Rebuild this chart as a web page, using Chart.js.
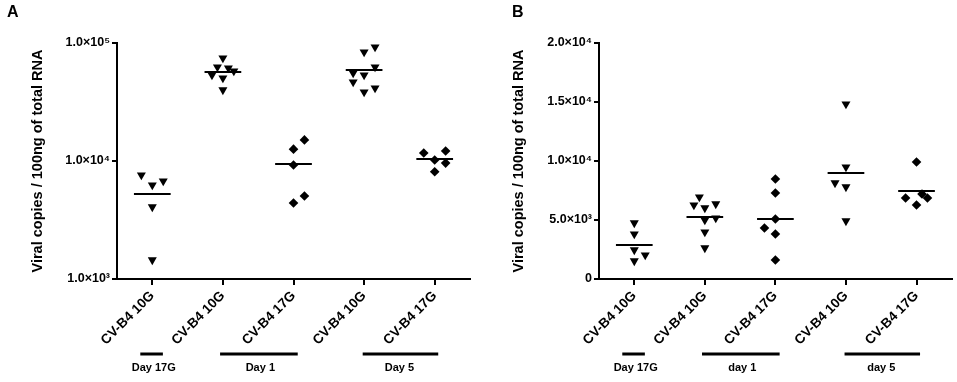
<!DOCTYPE html>
<html>
<head>
<meta charset="utf-8">
<script src="https://cdn.jsdelivr.net/npm/chart.js@4"></script>
<style>
  html, body { margin: 0; padding: 0; background: #fff; }
  .panel { position: absolute; top: 0; width: 478px; height: 382px; }
  #panelA { left: 0; }
  #panelB { left: 479px; }
</style>
</head>
<body>
<div class="panel" id="panelA"><canvas id="chartA" width="478" height="382"></canvas></div>
<div class="panel" id="panelB"><canvas id="chartB" width="478" height="382"></canvas></div>
<script>
// categories along the x axis (same in both panels)
const groups = ['CV-B4 10G', 'CV-B4 10G', 'CV-B4 17G', 'CV-B4 10G', 'CV-B4 17G'];
const groupShapes = ['triangle', 'triangle', 'rectRot', 'triangle', 'rectRot'];

// Panel A - viral copies (log scale)
const valuesA = [
    [7600, 6770, 6260, 4080, 1450],
    [74600, 62600, 61400, 57900, 53500, 50500, 40000],
    [15100, 12600, 9250, 5050, 4400],
    [92500, 83900, 62600, 55700, 53500, 46700, 41500, 38400],
    [12150, 11700, 10200, 9600, 8100]
];
// horizontal spread column of each dot (-1 left, 0 centre, 1 right)
const spreadA = [
    [-1, 1, 0, 0, 0],
    [0, -0.5, 0.5, 1, -1, 0, 0],
    [1, 0, 0, 1, 0],
    [1, 0, 1, -1, 0, -1, 1, 0],
    [1, -1, 0, 1, 0]
];
const meansA = [5250, 56800, 9430, 59000, 10400];
const ticksA = [1000, 10000, 100000];
const tickLabelsA = ['1.0\u00d710\u00b3', '1.0\u00d710\u2074', '1.0\u00d710\u2075'];
const daysA = ['Day 17G', 'Day 1', 'Day 5'];

// Panel B - viral copies (linear scale)
const valuesB = [
    [4750, 3810, 2460, 2030, 1530],
    [6950, 6270, 6360, 6020, 5170, 5000, 3980, 2630],
    [8475, 7290, 5085, 4320, 3810, 1610],
    [14830, 9490, 8140, 7800, 4920],
    [9920, 7200, 6870, 6870, 6270]
];
const spreadB = [
    [0, 0, 0, 1, 0],
    [-0.5, -1, 1, 0, 1, 0, 0, 0],
    [0, 0, 0, -1, 0, 0],
    [0, 0, -1, 0, 0],
    [0, 0.5, -1, 1, 0]
];
const meansB = [2880, 5260, 5085, 8980, 7460];
const ticksB = [0, 5000, 10000, 15000, 20000];
const tickLabelsB = ['0', '5.0\u00d710\u00b3', '1.0\u00d710\u2074', '1.5\u00d710\u2074', '2.0\u00d710\u2074'];
const daysB = ['Day 17G', 'day 1', 'day 5'];

const FONT = "'Liberation Sans', Arial, sans-serif";
const SPREAD = 0.155;   // one spread column in category units
const MEAN_HALF = 0.26; // half width of mean bar

// bracket spans under the axis, in category units
const bracketSpans = [[-0.17, 0.15, 0.02], [0.96, 2.06, 1.53], [2.98, 4.05, 3.5]];

function buildDatasets(values, spread, means) {
    const sets = values.map((vals, i) => ({
        type: 'scatter',
        data: vals.map((v, k) => ({ x: i + spread[i][k] * SPREAD, y: v })),
        pointStyle: groupShapes[i],
        rotation: groupShapes[i] === 'triangle' ? 180 : 0,
        pointRadius: groupShapes[i] === 'triangle' ? 5.2 : 4.8,
        pointHoverRadius: 5,
        backgroundColor: '#000',
        borderColor: '#000',
        borderWidth: 0
    }));
    const meanData = [];
    means.forEach((m, i) => {
        meanData.push({ x: i - MEAN_HALF, y: m }, { x: i + MEAN_HALF, y: m }, { x: i + 0.5, y: null });
    });
    sets.push({
        type: 'line',
        data: meanData,
        showLine: true,
        spanGaps: false,
        borderColor: '#000',
        borderWidth: 2,
        pointRadius: 0
    });
    return sets;
}

function panelPlugin(letter, letterX, days) {
    return {
        id: 'panel' + letter,
        afterDraw(chart) {
            const ctx = chart.ctx;
            const x = chart.scales.x;
            ctx.save();
            ctx.fillStyle = '#000';
            ctx.font = 'bold 16px ' + FONT;
            ctx.textBaseline = 'top';
            ctx.textAlign = 'left';
            ctx.fillText(letter, letterX, 5);

            ctx.strokeStyle = '#000';
            ctx.lineWidth = 3;
            ctx.font = 'bold 11px ' + FONT;
            ctx.textAlign = 'center';
            ctx.textBaseline = 'middle';
            bracketSpans.forEach((s, i) => {
                ctx.beginPath();
                ctx.moveTo(x.getPixelForValue(s[0]), 354);
                ctx.lineTo(x.getPixelForValue(s[1]), 354);
                ctx.stroke();
                ctx.fillText(days[i], x.getPixelForValue(s[2]), 368);
            });
            ctx.restore();
        }
    };
}

function makeChart(id, cfg) {
    const ctx = document.getElementById(id).getContext('2d');
    return new Chart(ctx, {
        type: 'scatter',
        data: { datasets: buildDatasets(cfg.values, cfg.spread, cfg.means) },
        options: {
            responsive: false,
            animation: false,
            layout: { padding: { top: 43, right: cfg.padRight, bottom: 0, left: 0 } },
            plugins: { legend: { display: false }, tooltip: { enabled: false } },
            scales: {
                x: {
                    type: 'linear',
                    min: -0.5,
                    max: 4.5,
                    afterBuildTicks: (scale) => { scale.ticks = groups.map((g, i) => ({ value: i })); },
                    afterFit: (scale) => { scale.height = 103; },
                    border: { display: true, color: '#000', width: 2 },
                    grid: { drawOnChartArea: false, drawTicks: true, tickLength: 6, color: '#000', lineWidth: 2 },
                    ticks: {
                        autoSkip: false,
                        minRotation: 45,
                        maxRotation: 45,
                        padding: 3,
                        color: '#000',
                        font: { family: FONT, size: 13.5, weight: 'bold' },
                        callback: (v) => groups[Math.round(v)]
                    }
                },
                y: {
                    type: cfg.yType,
                    min: cfg.ticks[0],
                    max: cfg.ticks[cfg.ticks.length - 1],
                    afterBuildTicks: (scale) => { scale.ticks = cfg.ticks.map(v => ({ value: v })); },
                    afterFit: (scale) => { scale.width = cfg.axisLeft; },
                    border: { display: true, color: '#000', width: 2 },
                    grid: { drawOnChartArea: false, drawTicks: true, tickLength: 5, color: '#000', lineWidth: 2 },
                    ticks: {
                        padding: 2,
                        color: '#000',
                        font: { family: FONT, size: 12.5, weight: 'bold' },
                        callback: (v) => cfg.tickLabels[cfg.ticks.indexOf(v)]
                    },
                    title: {
                        display: true,
                        text: 'Viral copies / 100ng of total RNA',
                        color: '#000',
                        font: { family: FONT, size: 14.5, weight: 'bold' },
                        padding: { top: cfg.titlePad, bottom: 0 }
                    }
                }
            }
        },
        plugins: [panelPlugin(cfg.letter, cfg.letterX, cfg.days)]
    });
}

makeChart('chartA', {
    values: valuesA, spread: spreadA, means: meansA,
    yType: 'logarithmic', ticks: ticksA, tickLabels: tickLabelsA,
    axisLeft: 117, padRight: 8, titlePad: 29, letter: 'A', letterX: 7, days: daysA
});
makeChart('chartB', {
    values: valuesB, spread: spreadB, means: meansB,
    yType: 'linear', ticks: ticksB, tickLabels: tickLabelsB,
    axisLeft: 120, padRight: 4, titlePad: 31, letter: 'B', letterX: 33, days: daysB
});
</script>
</body>
</html>
